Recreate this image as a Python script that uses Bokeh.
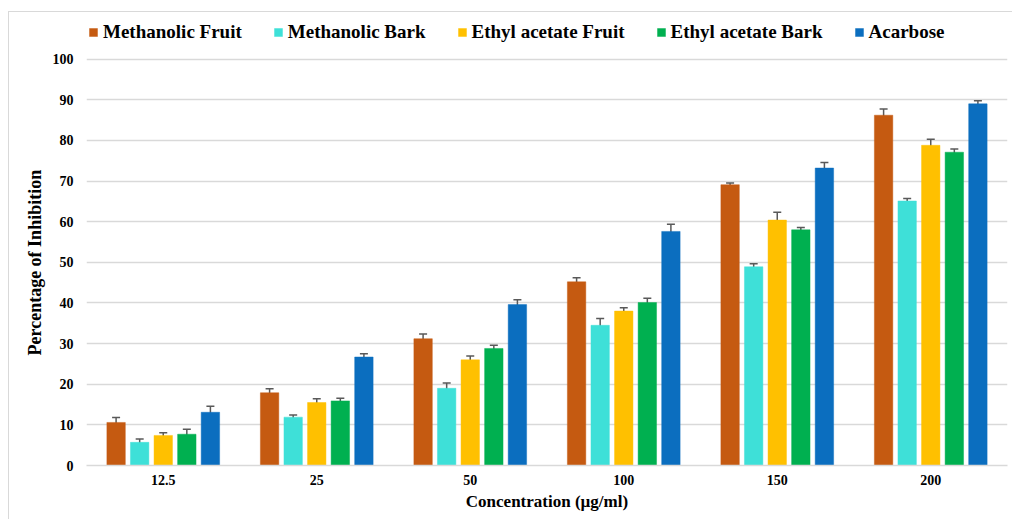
from bokeh.plotting import figure
from bokeh.models import (ColumnDataSource, FactorRange, Range1d, Whisker, TeeHead,
                          Legend, LegendItem, Title)
from bokeh.transform import dodge
from bokeh.embed import file_html
from bokeh.resources import INLINE

# Concentrations (µg/ml)
concentrations = ["12.5", "25", "50", "100", "150", "200"]

series_names = ["Methanolic Fruit", "Methanolic Bark", "Ethyl acetate Fruit",
                "Ethyl acetate Bark", "Acarbose"]
series_colors = ["#C55A11", "#3EE0D8", "#FFC000", "#00B050", "#0B6EBF"]

# Percentage of inhibition (mean) and standard error for each extract
methanolic_fruit = [10.6, 17.9, 31.2, 45.2, 69.1, 86.2]
methanolic_fruit_err = [1.2, 1.0, 1.15, 1.0, 0.4, 1.5]
methanolic_bark = [5.7, 11.9, 19.0, 34.5, 48.9, 65.1]
methanolic_bark_err = [0.8, 0.5, 1.3, 1.7, 0.75, 0.6]
ethyl_fruit = [7.4, 15.5, 26.0, 38.0, 60.4, 78.8]
ethyl_fruit_err = [0.65, 0.9, 0.95, 0.8, 1.9, 1.5]
ethyl_bark = [7.7, 15.9, 28.8, 40.1, 58.0, 77.1]
ethyl_bark_err = [1.2, 0.65, 0.8, 1.05, 0.55, 0.8]
acarbose = [13.1, 26.7, 39.6, 57.6, 73.2, 89.0]
acarbose_err = [1.5, 0.8, 1.2, 1.75, 1.35, 0.75]

y_ticks = [0, 10, 20, 30, 40, 50, 60, 70, 80, 90, 100]

means = [methanolic_fruit, methanolic_bark, ethyl_fruit, ethyl_bark, acarbose]
errors = [methanolic_fruit_err, methanolic_bark_err, ethyl_fruit_err,
          ethyl_bark_err, acarbose_err]

FONT = "Liberation Serif"
GRID = "#D9D9D9"

# Headroom above 100 leaves space for the legend row inside the frame
p = figure(
    x_range=FactorRange(*concentrations, range_padding=0),
    y_range=Range1d(0, 110),
    width=1004, height=508,
    output_backend="svg", toolbar_location=None,
    min_border_left=77, min_border_right=6,
    min_border_top=6, min_border_bottom=55,
)
p.margin = (11, 0, 0, 8)
p.styles = {"border-top": "1px solid #D9D9D9", "border-left": "1px solid #D9D9D9"}
p.outline_line_color = None
p.background_fill_color = "white"
p.border_fill_color = "white"

offsets = [-0.3072, -0.1536, 0.0, 0.1536, 0.3072]
bar_width = 0.12

items = []
for name, color, vals, errs, off in zip(series_names, series_colors, means, errors, offsets):
    src = ColumnDataSource(dict(
        conc=concentrations,
        value=vals,
        upper=[v + e for v, e in zip(vals, errs)],
        lower=[v - e for v, e in zip(vals, errs)],
    ))
    r = p.vbar(x=dodge("conc", off, range=p.x_range), top="value", width=bar_width,
               source=src, fill_color=color, line_color=color, line_alpha=0.45,
               line_width=1)
    w = Whisker(source=src, base=dodge("conc", off, range=p.x_range),
                upper="upper", lower="lower",
                line_color="#595959", line_width=1.5,
                upper_head=TeeHead(size=8, line_color="#595959", line_width=1.5),
                lower_head=TeeHead(size=8, line_color="#595959", line_width=1.5))
    p.add_layout(w)
    items.append(LegendItem(label=name, renderers=[r]))

legend = Legend(items=items, orientation="horizontal", location=(2, 422),
                glyph_width=10, glyph_height=10, label_standoff=5, spacing=31,
                label_text_font=FONT, label_text_font_style="bold",
                label_text_font_size="19px", label_text_color="black",
                border_line_color=None, background_fill_alpha=0,
                padding=0, margin=0)
p.add_layout(legend)

# Y axis
p.yaxis.ticker = y_ticks
p.yaxis.axis_line_color = None
p.yaxis.major_tick_line_color = None
p.yaxis.minor_tick_line_color = None
p.yaxis.major_label_standoff = 7
p.yaxis.major_label_text_font = FONT
p.yaxis.major_label_text_font_style = "bold"
p.yaxis.major_label_text_font_size = "14px"
p.yaxis.major_label_text_color = "black"

# Y title, centred on the 0-100 span rather than the full frame
y_title = Title(text="Percentage of Inhibition", align="left", offset=110,
                text_font=FONT, text_font_style="bold", text_font_size="18px",
                text_color="black", standoff=9)
p.add_layout(y_title, "left")

# X axis
p.xaxis.axis_line_color = GRID
p.xaxis.axis_line_width = 1.5
p.xaxis.major_tick_line_color = None
p.xaxis.minor_tick_line_color = None
p.xaxis.major_label_standoff = 3
p.xaxis.major_label_text_font = FONT
p.xaxis.major_label_text_font_style = "bold"
p.xaxis.major_label_text_font_size = "14px"
p.xaxis.major_label_text_color = "black"
p.xaxis.axis_label = "Concentration (\u00b5g/ml)"
p.xaxis.axis_label_text_font = FONT
p.xaxis.axis_label_text_font_style = "bold"
p.xaxis.axis_label_text_font_size = "17px"
p.xaxis.axis_label_text_color = "black"
p.xaxis.axis_label_standoff = 4

p.xgrid.grid_line_color = None
p.ygrid.grid_line_color = GRID
p.ygrid.grid_line_width = 1.5

open("out.html", "w").write(file_html(p, INLINE))
